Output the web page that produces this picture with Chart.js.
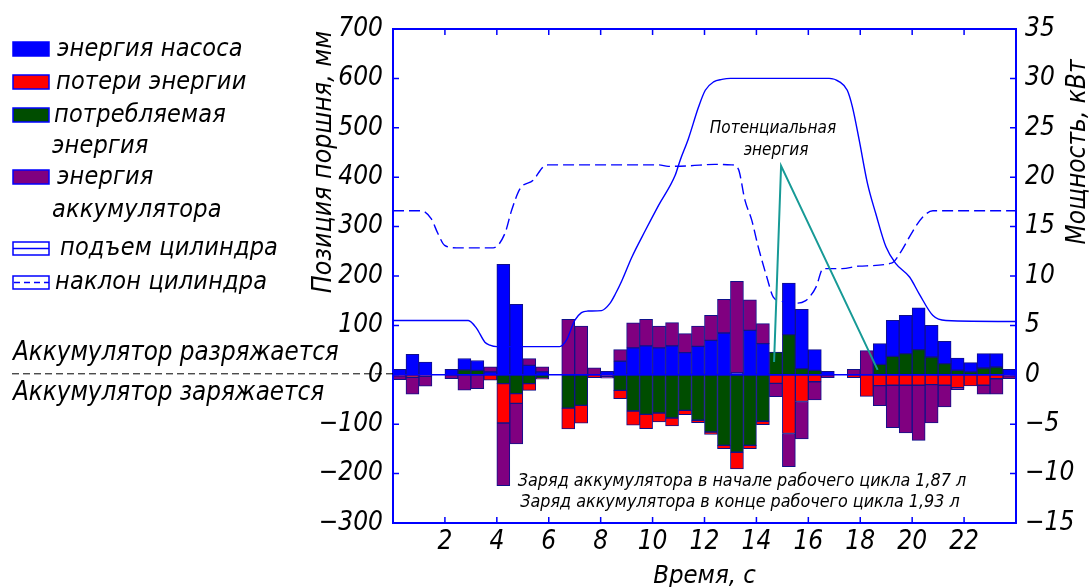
<!DOCTYPE html>
<html><head><meta charset="utf-8">
<script src="https://cdn.jsdelivr.net/npm/chart.js@4.4.1/dist/chart.umd.min.js"></script>
<style>html,body{margin:0;padding:0;background:#fff;}#wrap{width:1092px;height:587px;position:relative;}</style>
</head><body><div id="wrap"><canvas id="c" width="1092" height="587"></canvas></div>
<script>
// Time centres of the 0.5 s intervals, s
const barTimes = [0.25,0.75,1.25,1.75,2.25,2.75,3.25,3.75,4.25,4.75,5.25,5.75,6.25,6.75,7.25,7.75,
  8.25,8.75,9.25,9.75,10.25,10.75,11.25,11.75,12.25,12.75,13.25,13.75,14.25,14.75,15.25,15.75,
  16.25,16.75,17.25,17.75,18.25,18.75,19.25,19.75,20.25,20.75,21.25,21.75,22.25,22.75,23.25,23.75];
// Power, kW
const pumpEnergy = [0.55,2.07,1.3,0,0.55,1.15,1.0,0.3,11.18,7.13,0.96,0.3,0,0,0,0,
  0.35,1.37,2.72,2.92,2.72,2.92,2.24,2.88,3.49,4.23,0.2,4.5,3.15,0,5.23,6.0,
  2.1,0.35,0,0,0,2.09,3.65,3.88,4.22,3.2,2.26,1.24,0.94,1.45,1.35,0.56];
const energyLosses = [-0.1,-0.25,-0.15,0,-0.05,0,0,-0.55,-3.98,-1.0,-0.67,-0.1,0,-2.1,-1.8,-0.3,
  -0.15,-0.84,-1.45,-1.45,-0.9,-0.8,-0.44,-0.24,-0.24,-0.34,-1.69,-0.34,-0.34,-0.86,-5.94,-2.7,
  -0.7,-0.05,0,-0.3,-2.19,-1.1,-1.06,-1.06,-1.06,-1.0,-1.06,-1.3,-1.13,-1.06,-0.4,-0.1];
const consumedEnergy = [0,0,0,0,0,0.5,0.45,0,-0.9,-1.9,-0.9,-0.35,0,-3.37,-3.1,0,
  0,-1.57,-3.66,-4.0,-3.87,-4.37,-3.6,-4.6,-5.79,-7.14,-7.84,-7.14,-4.7,2.3,4.06,0.62,
  0.45,0,0,0,0,1.06,1.87,2.14,2.55,1.8,1.13,0.46,0.29,0.69,0.79,0];
const accumulatorEnergy = [-0.4,-1.7,-1.0,0,-0.35,-1.55,-1.4,0.5,-6.34,-4.1,0.68,0.5,0,5.62,4.94,0.7,
  -0.2,1.18,2.53,2.7,2.22,2.36,1.93,2.06,2.53,3.41,9.26,3.1,2.03,-1.35,-3.37,-3.8,
  -1.85,-0.25,0,0.56,2.45,-2.02,-4.28,-4.82,-5.57,-3.88,-2.19,-0.2,0,-0.91,-1.57,-0.3];
// Piston position, mm
const liftT = [0,2.9,3.22,3.54,3.73,4.0,6.42,6.68,7.0,7.26,7.5,8.03,8.35,8.57,8.82,9.2,9.72,10.23,10.87,11.06,11.38,11.77,12.03,12.35,12.67,13,16.8,17.2,17.5,17.7,17.96,18.28,18.6,18.99,19.37,19.9,20.27,20.8,21.3,24];
const liftPos = [110,110,94,66,60,57,57,70,110,126,129,130,144,164,191,238,292,343,404,434,478,542,576,593,598,600,600,593,576,542,475,387,326,259,225,198,164,120,110,108];
const tiltT = [0,1.1,1.47,1.73,1.99,2.44,3.86,4.31,4.57,4.9,5.4,5.79,5.98,10.25,10.6,11.4,12.4,13.05,13.3,13.56,13.82,14.07,14.4,14.65,14.9,15.2,15.6,15.9,16.04,16.3,16.57,17.3,17.96,19.2,19.6,19.97,20.4,20.8,24];
const tiltPos = [332,332,316,286,262,257,257,286,333,377,394,421,425,425,422,423,426,425,417,353,313,259,198,157,150,146,145,150,157,178,215,215,220,226,252,286,319,332,332];
// Pointer to the "potential energy" label
const pointerT = [14.68,14.95,18.67];
const pointerPos = [26,423,10];
const xTicks = [2,4,6,8,10,12,14,16,18,20,22];

const FONT = "'Liberation Sans Narrow','DejaVu Sans Condensed','Liberation Sans',sans-serif";
const BLUE = '#0000ff';
const pts = (xs, ys) => xs.map((x,i)=>({x, y: ys[i]}));
const bars = (vals) => vals.map((v,i)=>({x: barTimes[i], y: v===0 ? null : v}));
const fmt = v => v < 0 ? '\u2212' + Math.abs(v) : '' + v;

function text(ctx, s, x, y, size, align, rot, spacing) {
  ctx.save();
  ctx.font = 'italic ' + size + 'px ' + FONT;
  ctx.fillStyle = '#000';
  ctx.textAlign = align || 'left';
  ctx.textBaseline = 'middle';
  ctx.letterSpacing = (spacing || 0) + 'px';
  ctx.translate(x, y);
  if (rot) ctx.rotate(rot);
  ctx.fillText(s, 0, 0);
  ctx.restore();
}

const deco = {
  id: 'deco',
  afterDatasetsDraw(chart) {
    const ctx = chart.ctx, a = chart.chartArea;
    const ys = chart.scales.y, xs = chart.scales.x;
    ctx.save();
    ctx.strokeStyle = BLUE; ctx.lineWidth = 1.5;
    const y0 = ys.getPixelForValue(0);
    ctx.beginPath(); ctx.moveTo(a.left, y0); ctx.lineTo(a.right, y0); ctx.stroke();
    ctx.lineWidth = 2;
    ctx.strokeRect(a.left, a.top, a.right - a.left, a.bottom - a.top);
    ctx.lineWidth = 1.5;
    ctx.beginPath();
    xTicks.forEach(t => {
      const px = xs.getPixelForValue(t);
      ctx.moveTo(px, a.bottom); ctx.lineTo(px, a.bottom - 6);
      ctx.moveTo(px, a.top); ctx.lineTo(px, a.top + 6);
    });
    ys.ticks.forEach(tk => {
      if (tk.value <= ys.min || tk.value >= ys.max) return;
      const py = ys.getPixelForValue(tk.value);
      ctx.moveTo(a.left, py); ctx.lineTo(a.left + 6, py);
      ctx.moveTo(a.right, py); ctx.lineTo(a.right - 6, py);
    });
    ctx.stroke();
    ctx.restore();
  },
  afterDraw(chart) {
    const ctx = chart.ctx, a = chart.chartArea;
    const y0 = chart.scales.y.getPixelForValue(0);
    const sw = (y, fill) => {
      ctx.save();
      ctx.fillStyle = fill; ctx.fillRect(13, y, 36, 14);
      ctx.strokeStyle = BLUE; ctx.lineWidth = 1.5; ctx.strokeRect(13, y, 36, 14);
      ctx.restore();
    };
    const LS = 25, SP = 0.2;
    sw(42, '#0000ff'); text(ctx, 'энергия насоса', 57, 49, LS, 'left', 0, SP);
    sw(75, '#ff0000'); text(ctx, 'потери энергии', 56, 82, LS, 'left', 0, SP);
    sw(108, '#004d00'); text(ctx, 'потребляемая', 54, 115, LS, 'left', 0, SP);
    text(ctx, 'энергия', 52, 146, LS, 'left', 0, SP);
    sw(170, '#800080'); text(ctx, 'энергия', 57, 177, LS, 'left', 0, SP);
    text(ctx, 'аккумулятора', 52, 210, LS, 'left', 0, SP);
    ctx.save();
    ctx.strokeStyle = BLUE; ctx.lineWidth = 1.5;
    ctx.strokeRect(13, 242, 36, 13);
    ctx.beginPath(); ctx.moveTo(13, 248.5); ctx.lineTo(49, 248.5); ctx.stroke();
    ctx.strokeRect(13, 276, 36, 13);
    ctx.setLineDash([6, 4]);
    ctx.beginPath(); ctx.moveTo(14, 282.5); ctx.lineTo(49, 282.5); ctx.stroke();
    ctx.restore();
    text(ctx, 'подъем цилиндра', 60, 248, LS, 'left', 0, SP);
    text(ctx, 'наклон цилиндра', 55, 282, LS, 'left', 0, SP);
    text(ctx, 'Аккумулятор разряжается', 13, 353, 25.7, 'left', 0, 0);
    text(ctx, 'Аккумулятор заряжается', 13, 393, 25.7, 'left', 0, 0);
    ctx.save();
    ctx.strokeStyle = '#000'; ctx.lineWidth = 1; ctx.setLineDash([7, 4]);
    ctx.beginPath(); ctx.moveTo(12, y0 - 1); ctx.lineTo(a.left, y0 - 1); ctx.stroke();
    ctx.restore();
    text(ctx, 'Потенциальная', 773, 129, 17, 'center', 0, 0);
    text(ctx, 'энергия', 776, 151, 17, 'center', 0, 0);
    text(ctx, 'Заряд аккумулятора в начале рабочего цикла 1,87 л', 742, 481, 17.8, 'center', 0, 0);
    text(ctx, 'Заряд аккумулятора в конце рабочего цикла 1,93 л', 740, 502, 17.8, 'center', 0, 0);
    text(ctx, 'Позиция поршня, мм', 324, 162, 26.5, 'center', -Math.PI / 2, 0);
    text(ctx, 'Мощность, кВт', 1078, 152, 26, 'center', -Math.PI / 2, 0);
    text(ctx, 'Время, с', (a.left + a.right) / 2, 576, 25.5, 'center', 0, 0);
  }
};

const tickFont = {family: FONT, size: 26, style: 'italic'};
new Chart(document.getElementById('c'), {
  data: {
    datasets: [
      {type: 'line', label: 'Потенциальная энергия', data: pts(pointerT, pointerPos), yAxisID: 'y',
       borderColor: '#179a96', borderWidth: 2, pointRadius: 0, tension: 0},
      {type: 'line', label: 'подъем цилиндра', data: pts(liftT, liftPos), yAxisID: 'y',
       borderColor: BLUE, borderWidth: 1.4, pointRadius: 0, cubicInterpolationMode: 'monotone'},
      {type: 'line', label: 'наклон цилиндра', data: pts(tiltT, tiltPos), yAxisID: 'y',
       borderColor: BLUE, borderWidth: 1.4, borderDash: [11, 5], pointRadius: 0, cubicInterpolationMode: 'monotone'},
      {type: 'bar', label: 'потребляемая энергия', data: bars(consumedEnergy), yAxisID: 'y2',
       backgroundColor: '#004d00', borderColor: '#10108a', borderWidth: 1, borderSkipped: false},
      {type: 'bar', label: 'энергия насоса', data: bars(pumpEnergy), yAxisID: 'y2',
       backgroundColor: '#0000ff', borderColor: '#10108a', borderWidth: 1, borderSkipped: false},
      {type: 'bar', label: 'потери энергии', data: bars(energyLosses), yAxisID: 'y2',
       backgroundColor: '#ff0000', borderColor: '#10108a', borderWidth: 1, borderSkipped: false},
      {type: 'bar', label: 'энергия аккумулятора', data: bars(accumulatorEnergy), yAxisID: 'y2',
       backgroundColor: '#800080', borderColor: '#10108a', borderWidth: 1, borderSkipped: false}
    ]
  },
  options: {
    responsive: false, animation: false,
    layout: {padding: {top: 29, left: 0, right: 0, bottom: 0}},
    datasets: {bar: {barPercentage: 1, categoryPercentage: 1}},
    plugins: {legend: {display: false}, tooltip: {enabled: false}},
    scales: {
      x: {type: 'linear', min: 0, max: 24, offset: false, stacked: true, position: 'bottom',
          afterFit: s => { s.height = 64; },
          afterBuildTicks: s => { s.ticks = xTicks.map(v => ({value: v})); },
          grid: {display: false, drawTicks: false, offset: false}, border: {display: false},
          ticks: {font: tickFont, color: '#000', padding: 4, maxRotation: 0, autoSkip: false}},
      y: {type: 'linear', min: -300, max: 700, position: 'left', stacked: false,
          afterFit: s => { s.width = 393; },
          grid: {display: false, drawTicks: false}, border: {display: false},
          ticks: {stepSize: 100, font: tickFont, color: '#000', padding: 10, callback: fmt}},
      y2: {type: 'linear', min: -15, max: 35, position: 'right', stacked: true,
          afterFit: s => { s.width = 76; },
          grid: {display: false, drawTicks: false}, border: {display: false},
          ticks: {stepSize: 5, font: tickFont, color: '#000', padding: 9, callback: fmt}}
    }
  },
  plugins: [deco]
});
</script></body></html>
